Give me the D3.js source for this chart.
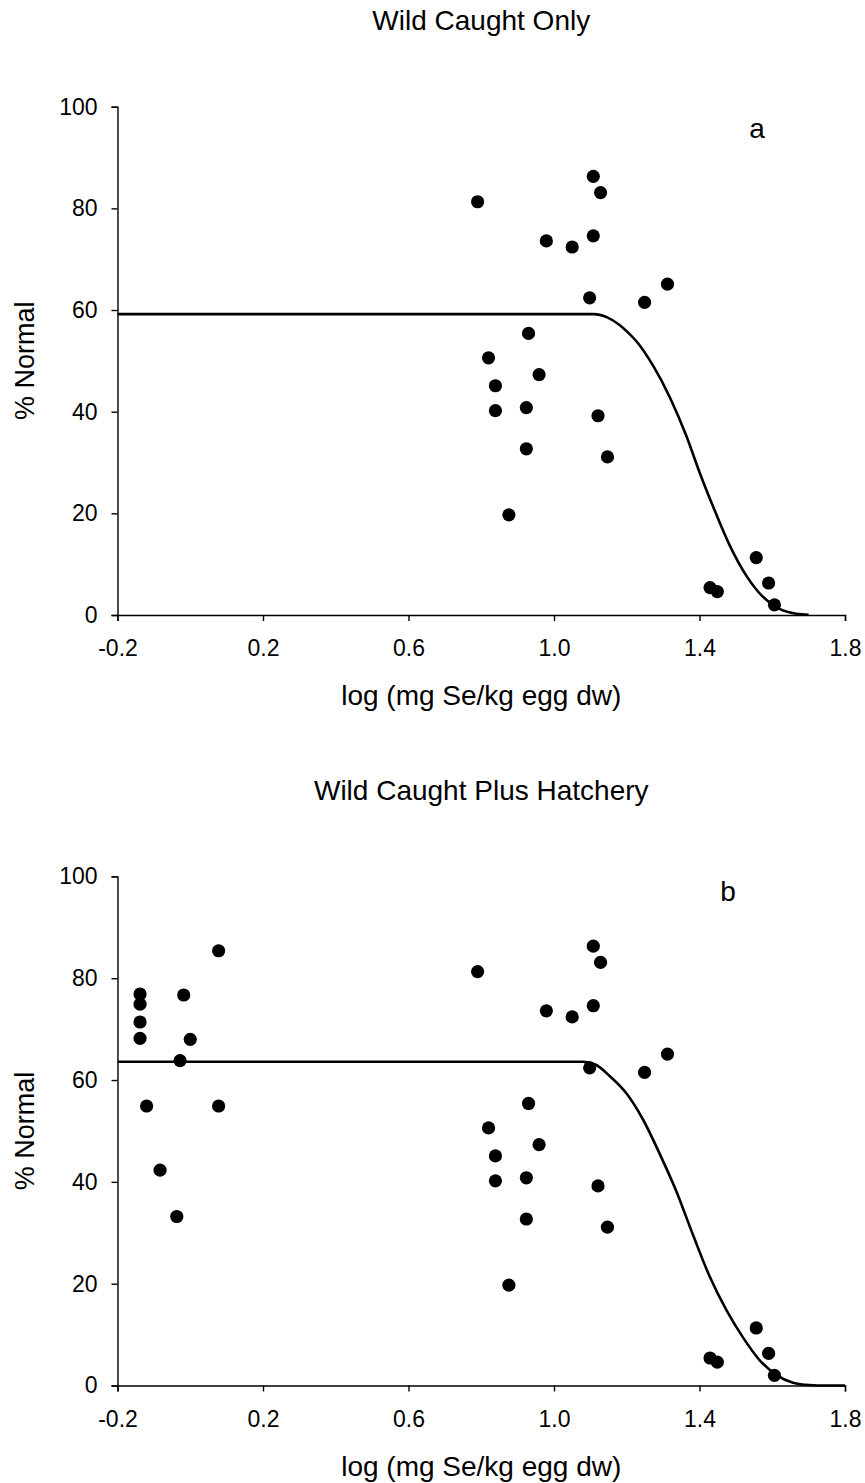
<!DOCTYPE html>
<html>
<head>
<meta charset="utf-8">
<script src="https://cdn.jsdelivr.net/npm/d3@7"></script>
<style>
  html, body { margin: 0; padding: 0; background: #fff; }
  svg { display: block; }
  text { font-family: "Liberation Sans", Arial, sans-serif; fill: #000; }
</style>
</head>
<body>
<div id="chart"></div>
<script>
// ---- Data ----
const xTicks = [-0.2, 0.2, 0.6, 1.0, 1.4, 1.8];
const xTickLabels = ["-0.2", "0.2", "0.6", "1.0", "1.4", "1.8"];
const yTicks = [0, 20, 40, 60, 80, 100];

// Wild caught fish (both panels)
const wildX = [0.790, 1.108, 1.128, 0.979, 1.050, 1.108, 1.098, 1.249, 1.312, 0.930,
               0.820, 0.839, 0.839, 0.959, 0.924, 0.924, 0.876, 1.121, 1.147,
               1.429, 1.449, 1.556, 1.590, 1.606];
const wildY = [81.3, 86.3, 83.1, 73.6, 72.4, 74.6, 62.4, 61.5, 65.1, 55.4,
               50.6, 45.1, 40.2, 47.3, 40.8, 32.7, 19.7, 39.2, 31.1,
               5.4, 4.6, 11.3, 6.3, 2.0];

// Hatchery fish (panel b only)
const hatchX = [-0.138, -0.138, -0.138, -0.138, -0.018, 0.078, 0.000, -0.028, -0.120, 0.078, -0.083, -0.037];
const hatchY = [76.9, 74.9, 71.4, 68.2, 76.7, 85.4, 68.0, 63.8, 54.9, 54.9, 42.3, 33.2];

// Fitted curves
const curveAX = [-0.2, 1.11, 1.145, 1.181, 1.20, 1.226, 1.272, 1.318, 1.364, 1.40, 1.437, 1.483, 1.529, 1.574, 1.62, 1.666, 1.70];
const curveAY = [59.2, 59.2, 58.6, 57.0, 55.8, 53.9, 49.1, 42.9, 35.2, 28.1, 21.4, 13.7, 7.7, 3.6, 1.2, 0.25, 0.05];

const curveBX = [-0.2, 1.08, 1.115, 1.153, 1.199, 1.245, 1.29, 1.336, 1.382, 1.428, 1.474, 1.519, 1.565, 1.611, 1.657, 1.702, 1.75, 1.80];
const curveBY = [63.6, 63.6, 63.0, 60.8, 57.4, 52.2, 45.6, 38.2, 29.6, 21.4, 14.8, 9.5, 5.0, 2.1, 0.55, 0.1, 0.0, 0.0];

const panels = [
  { title: "Wild Caught Only", letter: "a", top: 106.7, bottom: 615,
    xs: wildX, ys: wildY, cx: curveAX, cy: curveAY,
    titleY: 30, letterX: 757, letterY: 138 },
  { title: "Wild Caught Plus Hatchery", letter: "b", top: 876.4, bottom: 1385.5,
    xs: hatchX.concat(wildX), ys: hatchY.concat(wildY), cx: curveBX, cy: curveBY,
    titleY: 800, letterX: 728, letterY: 901 }
];

const W = 865, H = 1483;
const left = 117.5, right = 845;
const tickFs = 23, labelFs = 28, yLabelFs = 27;

const svg = d3.select("#chart").append("svg")
  .attr("width", W).attr("height", H);

const x = d3.scaleLinear().domain([-0.2, 1.8]).range([left, right]);

panels.forEach(p => {
  const y = d3.scaleLinear().domain([0, 100]).range([p.bottom, p.top]);
  const g = svg.append("g");

  // Title
  g.append("text").attr("x", (left + right) / 2).attr("y", p.titleY)
    .attr("text-anchor", "middle").attr("font-size", labelFs).text(p.title);

  // Axes
  const xAxis = d3.axisBottom(x).tickValues(xTicks)
    .tickFormat((d, i) => xTickLabels[i]).tickSizeOuter(0).tickSize(6).tickPadding(19);
  const gx = g.append("g").attr("transform", `translate(0,${p.bottom})`).call(xAxis);
  const yAxis = d3.axisLeft(y).tickValues(yTicks).tickSizeOuter(0).tickSize(6).tickPadding(14);
  const gy = g.append("g").attr("transform", `translate(${left},0)`).call(yAxis);
  [gx, gy].forEach(a => {
    a.selectAll("path.domain").attr("stroke", "#000").attr("stroke-width", 1.4);
    a.selectAll(".tick line").attr("stroke", "#000").attr("stroke-width", 1.4);
    a.selectAll(".tick text").attr("font-size", tickFs)
      .attr("font-family", "Liberation Sans, Arial, sans-serif").attr("fill", "#000");
  });

  // Axis labels
  g.append("text").attr("x", (left + right) / 2).attr("y", p.bottom + 90)
    .attr("text-anchor", "middle").attr("font-size", labelFs).text("log (mg Se/kg egg dw)");
  g.append("text")
    .attr("transform", `translate(34,${(p.top + p.bottom) / 2}) rotate(-90)`)
    .attr("text-anchor", "middle").attr("font-size", yLabelFs).text("% Normal");

  // Panel letter
  g.append("text").attr("x", p.letterX).attr("y", p.letterY)
    .attr("text-anchor", "middle").attr("font-size", labelFs).text(p.letter);

  // Curve
  const pts = p.cx.map((v, i) => [v, p.cy[i]]);
  g.append("path").datum(pts)
    .attr("fill", "none").attr("stroke", "#000").attr("stroke-width", 2.6)
    .attr("d", d3.line().x(d => x(d[0])).y(d => y(d[1])).curve(d3.curveMonotoneX));

  // Points
  const data = p.xs.map((v, i) => [v, p.ys[i]]);
  g.selectAll("circle.pt").data(data).enter().append("circle")
    .attr("class", "pt")
    .attr("cx", d => x(d[0])).attr("cy", d => y(d[1])).attr("r", 6.6)
    .attr("fill", "#000");
});
</script>
</body>
</html>
